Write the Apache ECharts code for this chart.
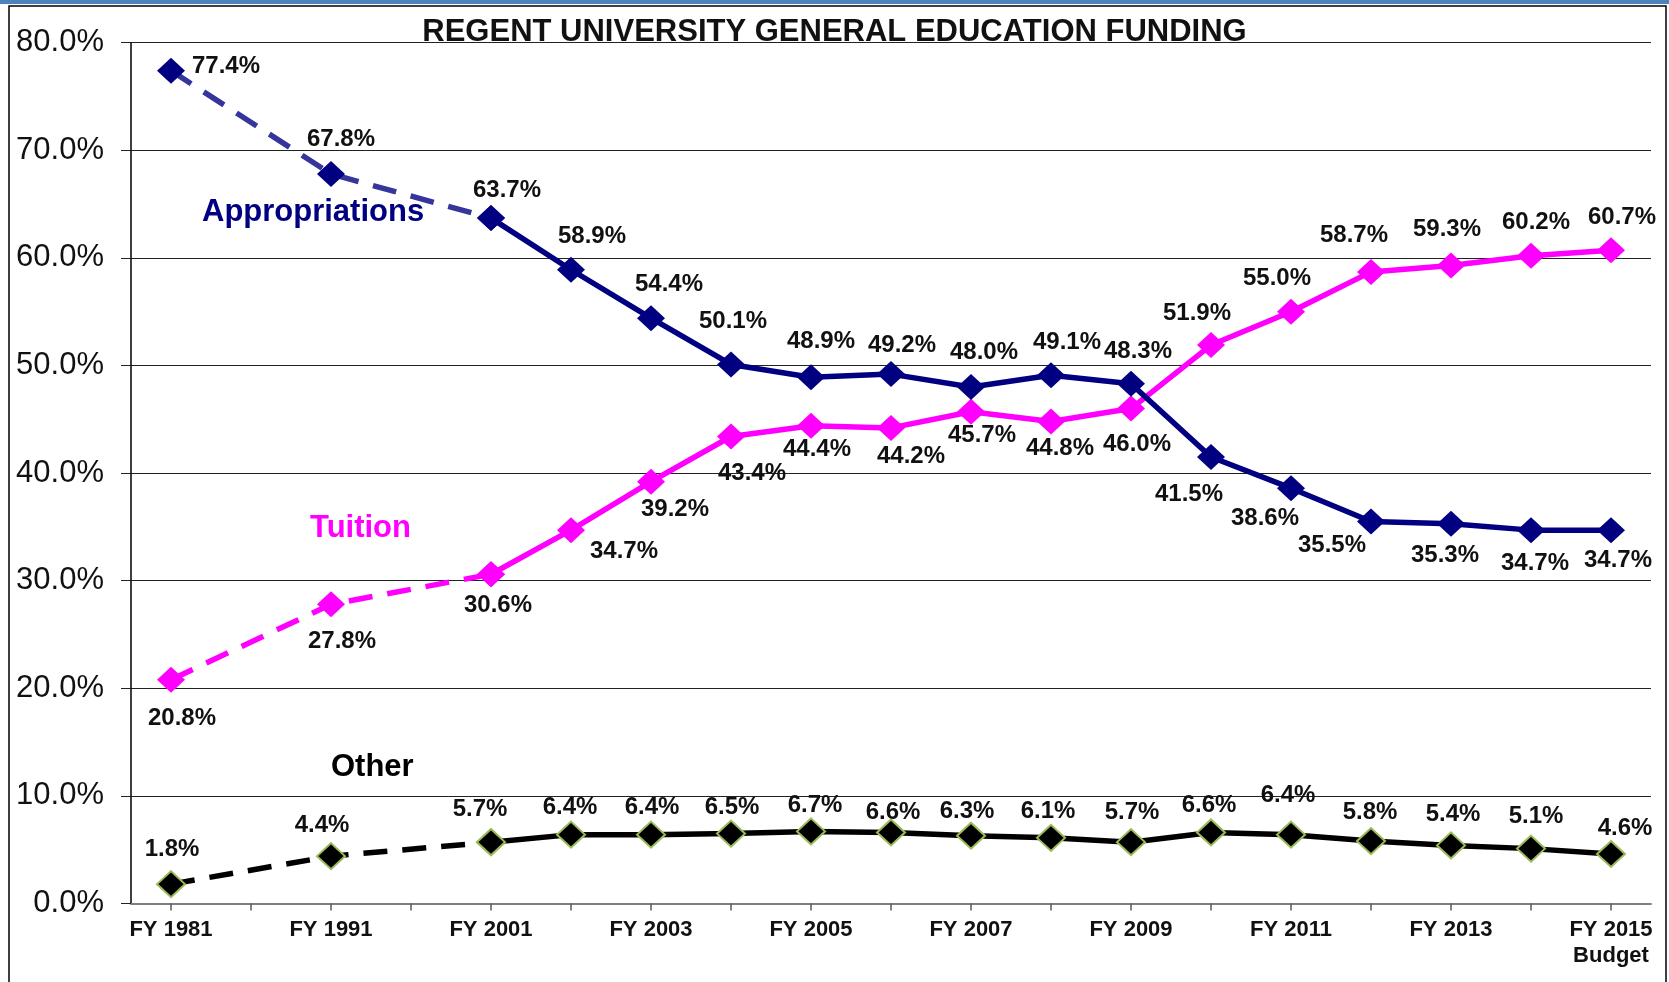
<!DOCTYPE html>
<html>
<head>
<meta charset="utf-8">
<script src="https://cdn.jsdelivr.net/npm/echarts@6/dist/echarts.min.js"></script>
<style>
html,body{margin:0;padding:0;background:#fff;}
#main{width:1669px;height:982px;}
</style>
</head>
<body>
<div id="main"></div>
<script>
var myChart = echarts.init(document.getElementById('main'));

// x categories ('' = spacer slots between the 1981/1991/2001 points)
var categories = ['FY 1981','','FY 1991','','FY 2001','FY 2002','FY 2003','FY 2004','FY 2005','FY 2006',
	'FY 2007','FY 2008','FY 2009','FY 2010','FY 2011','FY 2012','FY 2013','FY 2014','FY 2015\nBudget'];

var appropriations = [77.4,null,67.8,null,63.7,58.9,54.4,50.1,48.9,49.2,48.0,49.1,48.3,41.5,38.6,35.5,35.3,34.7,34.7];
var tuition        = [20.8,null,27.8,null,30.6,34.7,39.2,43.4,44.4,44.2,45.7,44.8,46.0,51.9,55.0,58.7,59.3,60.2,60.7];
var other          = [1.8,null,4.4,null,5.7,6.4,6.4,6.5,6.7,6.6,6.3,6.1,5.7,6.6,6.4,5.8,5.4,5.1,4.6];

var yTicks = [0,10,20,30,40,50,60,70,80];

// label offsets (layout only)
var appOff = [[55,-4],null,[10,-35],null,[16,-28],[21,-33],[18,-34],[2,-43],[10,-36],[11,-29],[13,-35],[16,-33],[7,-32],
	[-22,37],[-26,30],[-39,24],[-6,32],[4,33],[7,30]];
var tuiOff = [[11,39],null,[11,37],null,[7,31],[53,21],[24,28],[21,37],[6,24],[20,28],[11,24],[9,27],[6,36],
	[-14,-32],[-14,-33],[-17,-37],[-4,-36],[5,-33],[11,-33]];
var othOff = [[1,-35],null,[-9,-31],null,[-11,-33],[-1,-27],[1,-27],[1,-26],[4,-26],[2,-20],[-4,-24],[-3,-26],[1,-30],
	[-2,-27],[-3,-39],[-1,-29],[2,-31],[5,-32],[14,-26]];

var FONT = '"Liberation Sans", Arial, sans-serif';

// split a series into dashed (up to FY 2001) and solid (from FY 2001) parts
function part(values, offsets, from, to, withLabel){
	var out = [];
	for (var i = 0; i < values.length; i++) {
		if (values[i] == null || i < from || i > to) { out.push(null); continue; }
		var item = {value: values[i]};
		if (withLabel(i)) {
			item.label = {show: true, offset: offsets[i]};
		} else {
			item.label = {show: false};
		}
		out.push(item);
	}
	return out;
}

function makeSeries(name, values, offsets, lineColor, dashColor, symColor, borderColor){
	var labelBase = {
		show: true,
		position: 'inside',
		formatter: function(p){ return p.value.toFixed(1) + '%'; },
		fontFamily: FONT,
		fontWeight: 'bold',
		fontSize: 24,
		color: '#111'
	};
	var itemStyle = {color: symColor, borderColor: borderColor || symColor, borderWidth: borderColor ? 2 : 0};
	return [
		{
			name: name,
			type: 'line',
			data: part(values, offsets, 0, 4, function(i){ return i < 4; }),
			connectNulls: true,
			symbol: 'diamond',
			symbolSize: [28, 26],
			itemStyle: itemStyle,
			lineStyle: {color: dashColor, width: 5.5, type: [24, 15]},
			label: labelBase,
			z: 3
		},
		{
			name: name,
			type: 'line',
			data: part(values, offsets, 4, 18, function(i){ return true; }),
			connectNulls: false,
			symbol: 'diamond',
			symbolSize: [28, 26],
			itemStyle: itemStyle,
			lineStyle: {color: lineColor, width: 5.5},
			label: labelBase,
			z: 4
		}
	];
}

var series = []
	.concat(makeSeries('Other', other, othOff, '#000000', '#000000', '#000000', '#9bbb59'))
	.concat(makeSeries('Tuition', tuition, tuiOff, '#ff00ff', '#ff00ff', '#ff00ff'))
	.concat(makeSeries('Appropriations', appropriations, appOff, '#000080', '#35359b', '#000080'));

var option = {
	backgroundColor: '#ffffff',
	animation: false,
	title: {
		text: 'REGENT UNIVERSITY GENERAL EDUCATION FUNDING',
		left: 'center',
		top: 12,
		textStyle: {fontFamily: FONT, fontWeight: 'bold', fontSize: 31, color: '#111'}
	},
	grid: {left: 131, right: 18, top: 42.7, bottom: 78.5, containLabel: false},
	xAxis: {
		type: 'category',
		data: categories,
		boundaryGap: true,
		axisLine: {lineStyle: {color: '#7f7f7f', width: 2}},
		axisTick: {show: true, alignWithLabel: true, interval: 0, length: 7, lineStyle: {color: '#595959', width: 1.5}},
		axisLabel: {
			interval: 1,
			margin: 13,
			fontFamily: FONT,
			fontWeight: 'bold',
			fontSize: 22,
			lineHeight: 26,
			color: '#111'
		},
		splitLine: {show: false}
	},
	yAxis: {
		type: 'value',
		min: yTicks[0],
		max: yTicks[yTicks.length - 1],
		interval: 10,
		axisLine: {show: true, lineStyle: {color: '#000', width: 1.5}},
		axisTick: {show: true, length: 10, lineStyle: {color: '#222', width: 1}},
		axisLabel: {
			margin: 27,
			fontFamily: FONT,
			fontSize: 31,
			color: '#111',
			formatter: function(v){ return v.toFixed(1) + '%'; }
		},
		splitLine: {show: true, lineStyle: {color: '#222', width: 1}}
	},
	graphic: [
		{type: 'rect', shape: {x: 0, y: 0, width: 1669, height: 4}, style: {fill: '#4f81bd'}, silent: true},
		{type: 'rect', shape: {x: 9, y: 6, width: 1657, height: 990}, style: {fill: null, stroke: '#000', lineWidth: 1.5}, silent: true},
		{type: 'text', left: 202, top: 197, style: {text: 'Appropriations', fill: '#000080', font: 'bold 31px ' + FONT}},
		{type: 'text', left: 310, top: 513, style: {text: 'Tuition', fill: '#ff00ff', font: 'bold 31px ' + FONT}},
		{type: 'text', left: 331, top: 752, style: {text: 'Other', fill: '#000000', font: 'bold 31px ' + FONT}}
	],
	series: series
};

myChart.setOption(option);
</script>
</body>
</html>
